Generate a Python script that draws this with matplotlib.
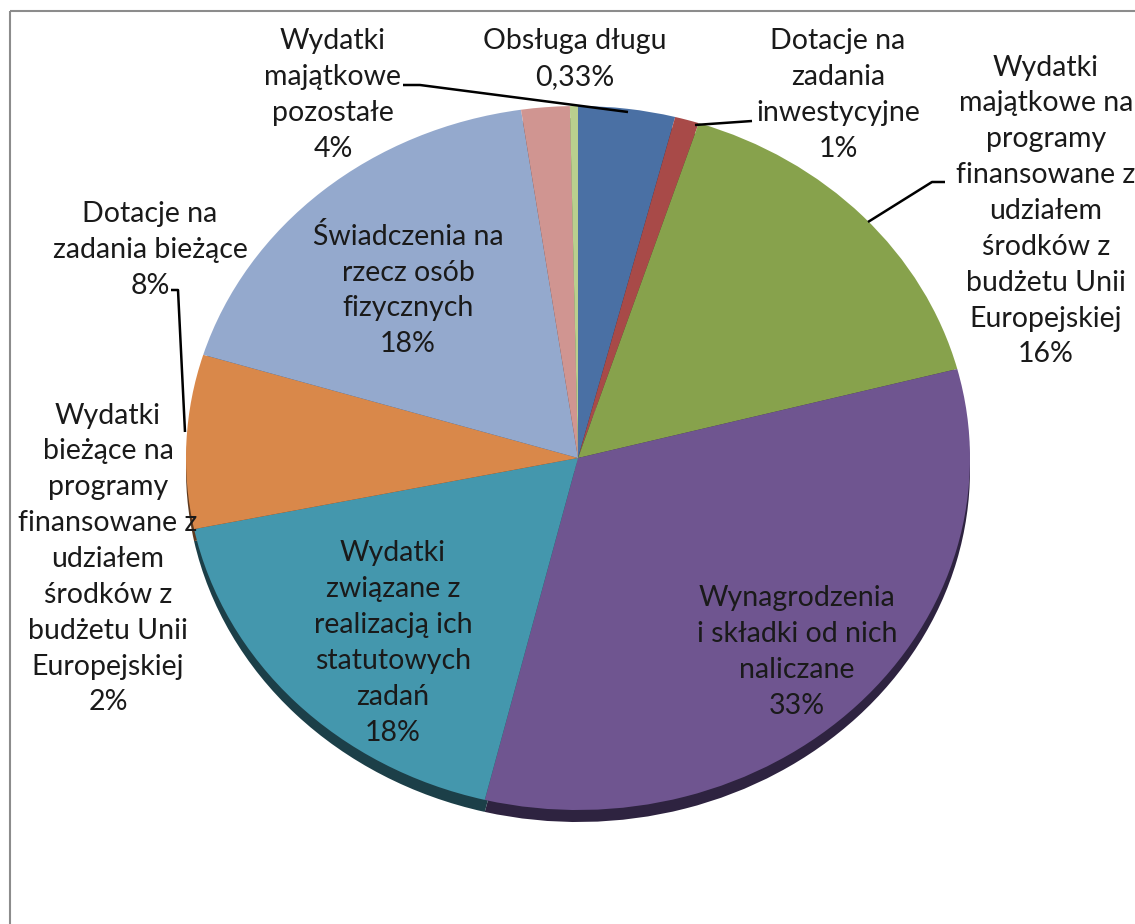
import matplotlib
matplotlib.use("Agg")
import matplotlib.pyplot as plt
from matplotlib.patches import Rectangle

# ---- data ----
categories = [
    "Wydatki\nmajątkowe\npozostałe",
    "Dotacje na\nzadania\ninwestycyjne",
    "Wydatki\nmajątkowe na\nprogramy\nfinansowane z\nudziałem\nśrodków z\nbudżetu Unii\nEuropejskiej",
    "Wynagrodzenia\ni składki od nich\nnaliczane",
    "Wydatki\nzwiązane z\nrealizacją ich\nstatutowych\nzadań",
    "Dotacje na\nzadania bieżące",
    "Świadczenia na\nrzecz osób\nfizycznych",
    "Wydatki\nbieżące na\nprogramy\nfinansowane z\nudziałem\nśrodków z\nbudżetu Unii\nEuropejskiej",
    "Obsługa długu",
]
values = [4, 1, 16, 33, 18, 8, 18, 2, 0.33]

colors = ["#4a70a4", "#a84a48", "#87a24c", "#6f5590", "#4497ad",
          "#d9884a", "#94a9cd", "#d09591", "#b9cf8e"]
dark_colors = ["#1f3048", "#4a2020", "#3b4721", "#2e2340", "#1c3f48",
               "#5e3a1f", "#414a5a", "#5c4240", "#515a3e"]

# label centres (pixels) - layout
label_pos = [(333, 95), (838, 95), (1046, 211), (797, 652), (393, 643),
             (150, 250), (408, 290), (108, 559), (575, 59)]

W, H = 1135, 924
fig = plt.figure(figsize=(W / 100, H / 100), dpi=100)
fig.patch.set_facecolor("white")

# pie geometry in pixels
cx, cy, rx, ry = 578, 458, 392, 352
ax = fig.add_axes([(cx - rx) / W, 1 - (cy + ry) / H, 2 * rx / W, 2 * ry / H])
depth = 12 / ry
ax.pie(values, colors=dark_colors, startangle=90, counterclock=False,
       center=(0, -depth), radius=1, wedgeprops=dict(linewidth=0))
ax.pie(values, colors=colors, startangle=90, counterclock=False,
       center=(0, 0), radius=1, wedgeprops=dict(linewidth=0.3, edgecolor="none"))
ax.set_aspect("auto")
ax.set_xlim(-1, 1)
ax.set_ylim(-1, 1)
ax.axis("off")

# overlay in pixel coordinates
ov = fig.add_axes([0, 0, 1, 1], zorder=5)
ov.set_xlim(0, W)
ov.set_ylim(H, 0)
ov.axis("off")
ov.patch.set_alpha(0)

ov.add_patch(Rectangle((9.5, 10.5), W + 20, H + 20, fill=False,
                       edgecolor="#8c8c8c", linewidth=1.5))

for cat, v, (x, y) in zip(categories, values, label_pos):
    pct = f"{v:g}%".replace(".", ",")
    ov.text(x, y, f"{cat}\n{pct}", ha="center", va="center",
            fontsize=20.5, family=["Lato", "DejaVu Sans"], color="#1a1a1a",
            linespacing=1.47)

# leader lines
lk = dict(color="black", linewidth=1.8, solid_capstyle="butt")
ov.plot([403, 420, 628], [85, 85, 112], **lk)
ov.plot([752, 695], [121, 125], **lk)
ov.plot([945, 932, 868], [182, 182, 222], **lk)
ov.plot([171, 178, 185], [290, 290, 432], **lk)

fig.savefig("out.png", dpi=100, facecolor="white")
